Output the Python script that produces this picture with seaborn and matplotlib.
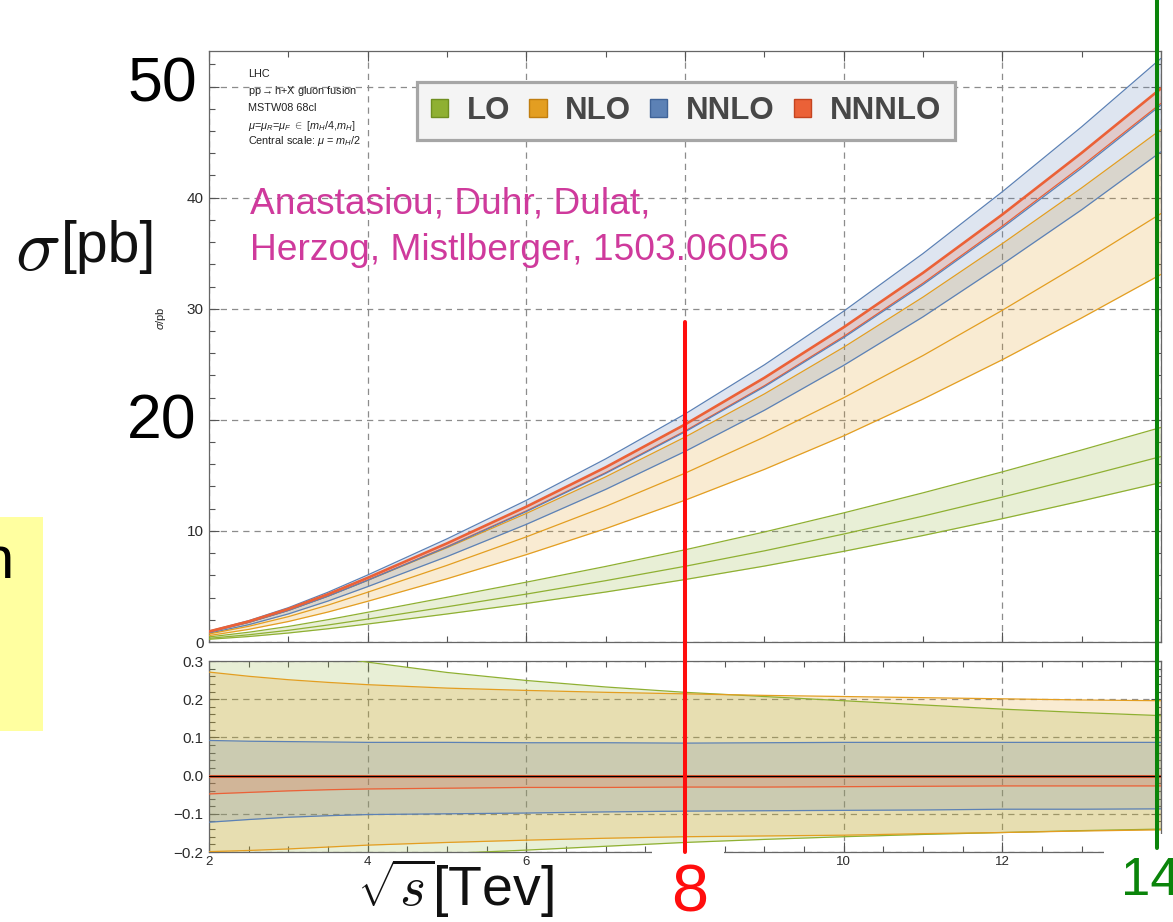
"""Higgs gluon-fusion cross section vs sqrt(s), LO..NNNLO scale bands (slide figure)."""

import matplotlib

matplotlib.use("Agg")
import matplotlib.pyplot as plt
import matplotlib.transforms as mtransforms
import seaborn as sns
from matplotlib.lines import Line2D
from matplotlib.patches import Patch, Rectangle
from matplotlib.ticker import MultipleLocator

W, H = 1173, 922

# --- data ------------------------------------------------------------------
ENERGY = [2, 2.5, 3, 3.5, 4, 5, 6, 7, 8, 9, 10, 11, 12, 13, 14]

LO_CENTRAL = [0.333, 0.651, 1.051, 1.531, 2.063, 3.170, 4.312, 5.521, 6.814, 8.204, 9.717, 11.331, 13.045, 14.838, 16.693]
LO_UP = [0.456, 0.879, 1.398, 2.010, 2.676, 4.026, 5.386, 6.802, 8.299, 9.902, 11.622, 13.427, 15.315, 17.286, 19.314]
LO_DOWN = [0.246, 0.492, 0.809, 1.191, 1.619, 2.523, 3.471, 4.500, 5.622, 6.834, 8.162, 9.586, 11.101, 12.701, 14.356]

NLO_CENTRAL = [0.720, 1.413, 2.281, 3.320, 4.480, 6.900, 9.464, 12.206, 15.194, 18.453, 21.984, 25.786, 29.860, 34.123, 38.568]
NLO_UP = [0.915, 1.780, 2.854, 4.130, 5.546, 8.480, 11.574, 14.867, 18.446, 22.328, 26.535, 31.046, 35.862, 40.879, 46.127]
NLO_DOWN = [0.577, 1.136, 1.843, 2.699, 3.665, 5.693, 7.865, 10.204, 12.763, 15.537, 18.554, 21.867, 25.411, 29.175, 33.091]

NNLO_CENTRAL = [0.898, 1.761, 2.836, 4.119, 5.549, 8.543, 11.742, 15.179, 18.914, 22.971, 27.395, 32.167, 37.287, 42.665, 48.335]
NNLO_UP = [0.981, 1.919, 3.088, 4.481, 6.032, 9.286, 12.752, 16.484, 20.522, 24.947, 29.778, 34.966, 40.531, 46.377, 52.540]
NNLO_DOWN = [0.788, 1.558, 2.527, 3.687, 4.983, 7.689, 10.591, 13.737, 17.155, 20.858, 24.902, 29.272, 34.006, 38.910, 44.130]

N3LO_CENTRAL = [0.95, 1.85, 2.97, 4.30, 5.78, 8.88, 12.18, 15.73, 19.58, 23.78, 28.33, 33.23, 38.48, 44.03, 49.83]
N3LO_DOWN = [0.904, 1.769, 2.851, 4.141, 5.578, 8.587, 11.802, 15.242, 18.993, 23.067, 27.508, 32.300, 37.441, 42.841, 48.485]

# relative scale uncertainty (lower panel)
LO_RATIO_UP = [0.37, 0.35, 0.33, 0.313, 0.297, 0.270, 0.249, 0.232, 0.218, 0.207, 0.196, 0.185, 0.174, 0.165, 0.157]
LO_RATIO_DOWN = [-0.26, -0.244, -0.23, -0.222, -0.215, -0.204, -0.195, -0.185, -0.175, -0.167, -0.160, -0.154, -0.149, -0.144, -0.140]
NLO_RATIO_UP = [0.271, 0.260, 0.251, 0.244, 0.238, 0.229, 0.223, 0.218, 0.214, 0.210, 0.207, 0.204, 0.201, 0.198, 0.196]
NLO_RATIO_DOWN = [-0.199, -0.196, -0.192, -0.187, -0.182, -0.175, -0.169, -0.164, -0.160, -0.158, -0.156, -0.152, -0.149, -0.145, -0.142]
NNLO_RATIO_UP = [0.092, 0.090, 0.089, 0.088, 0.087, 0.087, 0.086, 0.086, 0.085, 0.086, 0.087, 0.087, 0.087, 0.087, 0.087]
NNLO_RATIO_DOWN = [-0.122, -0.115, -0.109, -0.105, -0.102, -0.100, -0.098, -0.095, -0.093, -0.092, -0.091, -0.090, -0.088, -0.088, -0.087]
N3LO_RATIO_UP = [0.0, 0.0, 0.0, 0.0, 0.0, 0.0, 0.0, 0.0, 0.0, 0.0, 0.0, 0.0, 0.0, 0.0, 0.0]
N3LO_RATIO_DOWN = [-0.048, -0.044, -0.040, -0.037, -0.035, -0.033, -0.031, -0.031, -0.030, -0.030, -0.029, -0.028, -0.027, -0.027, -0.027]

ORDERS = ["LO", "NLO", "NNLO", "NNNLO"]
COLORS = ["#8fb032", "#e39e21", "#5c81b5", "#eb6137"]
EDGES = ["#6f8f20", "#c07e10", "#3f6398", "#c44420"]

MARKED_ENERGIES = [8, 14]
TOP_YTICKS = [0, 10, 20, 30, 40, 50]
TOP_YTICK_LABELS = ["0", "10", "", "30", "40", ""]
BOT_XTICKS = [2, 4, 6, 8, 10, 12, 14]
BOT_XTICK_LABELS = ["2", "4", "6", "", "10", "12", ""]
BOT_YTICKS = [-0.2, -0.1, 0.0, 0.1, 0.2, 0.3]
BOT_YTICK_LABELS = ["\u22120.2", "\u22120.1", "0.0", "0.1", "0.2", "0.3"]

INFO_LINES = [
    "LHC",
    r"pp$\rightarrow$h+X gluon fusion",
    "MSTW08 68cl",
    r"$\mu$=$\mu_R$=$\mu_F$ $\in$ [$m_H$/4,$m_H$]",
    r"Central scale: $\mu$ = $m_H$/2",
]
INFO_BASELINES = [77, 94, 111, 129, 144]


def px(x, y):
    return x / W, 1 - y / H


def style_axes(ax):
    for sp in ax.spines.values():
        sp.set_color("#666666")
        sp.set_linewidth(0.9)
    ax.tick_params(which="both", direction="in", top=True, right=True,
                   color="#555555", labelcolor="#2b2b2b", width=0.8)
    ax.tick_params(which="major", length=7)
    ax.tick_params(which="minor", length=4.5)
    ax.grid(True, which="major", color="#8c8c8c", linestyle=(0, (5, 4)), linewidth=0.9)
    ax.set_axisbelow(True)
    ax.set_xlim(2, 14)


def band(ax, lo, hi, color, mid=None, mid_lw=0.9):
    ax.fill_between(ENERGY, lo, hi, color=color, alpha=0.2, lw=0, zorder=2)
    for vals in (lo, hi):
        sns.lineplot(x=ENERGY, y=vals, ax=ax, color=color, lw=0.9, zorder=3)
    if mid is not None:
        sns.lineplot(x=ENERGY, y=mid, ax=ax, color=color, lw=mid_lw, zorder=4)


def main():
    sns.set_theme(style="ticks")
    plt.rcParams["font.family"] = ["Liberation Sans", "DejaVu Sans"]
    plt.rcParams["mathtext.fontset"] = "custom"
    plt.rcParams["mathtext.rm"] = "Liberation Sans"
    plt.rcParams["mathtext.it"] = "Liberation Sans:italic"
    plt.rcParams["mathtext.bf"] = "Liberation Sans:bold"

    fig = plt.figure(figsize=(W / 100, H / 100), dpi=100)
    fig.patch.set_facecolor("white")

    ax = fig.add_axes([209 / W, 1 - 642 / H, (1161 - 209) / W, (642 - 51) / H])
    axr = fig.add_axes([209 / W, 1 - 852 / H, (1161 - 209) / W, (852 - 661) / H])

    # upper panel: absolute cross sections
    band(ax, LO_DOWN, LO_UP, COLORS[0], LO_CENTRAL)
    band(ax, NLO_DOWN, NLO_UP, COLORS[1], NLO_CENTRAL)
    band(ax, NNLO_DOWN, NNLO_UP, COLORS[2], NNLO_CENTRAL)
    ax.fill_between(ENERGY, N3LO_DOWN, N3LO_CENTRAL, color=COLORS[3], alpha=0.2, lw=0, zorder=2)
    sns.lineplot(x=ENERGY, y=N3LO_DOWN, ax=ax, color=COLORS[3], lw=0.9, zorder=3)
    sns.lineplot(x=ENERGY, y=N3LO_CENTRAL, ax=ax, color=COLORS[3], lw=1.9, zorder=4)

    style_axes(ax)
    ax.set_ylim(0, 53.2)
    ax.set_xticks(BOT_XTICKS)
    ax.xaxis.set_minor_locator(MultipleLocator(1))
    ax.set_yticks(TOP_YTICKS, labels=TOP_YTICK_LABELS)
    ax.yaxis.set_minor_locator(MultipleLocator(2))
    ax.tick_params(labelbottom=False, labelsize=11, pad=4)
    ax.set_xlabel("")
    ax.set_ylabel("")

    # lower panel: relative scale variation
    band(axr, LO_RATIO_DOWN, LO_RATIO_UP, COLORS[0])
    band(axr, NLO_RATIO_DOWN, NLO_RATIO_UP, COLORS[1])
    band(axr, NNLO_RATIO_DOWN, NNLO_RATIO_UP, COLORS[2])
    axr.fill_between(ENERGY, N3LO_RATIO_DOWN, N3LO_RATIO_UP, color=COLORS[3], alpha=0.2, lw=0, zorder=2)
    sns.lineplot(x=ENERGY, y=N3LO_RATIO_DOWN, ax=axr, color=COLORS[3], lw=0.9, zorder=3)
    sns.lineplot(x=ENERGY, y=N3LO_RATIO_UP, ax=axr, color=COLORS[3], lw=2.2, zorder=4)
    axr.axhline(0, color="black", lw=0.9, zorder=5)

    style_axes(axr)
    axr.set_ylim(-0.2, 0.3)
    axr.set_xticks(BOT_XTICKS, labels=BOT_XTICK_LABELS)
    axr.xaxis.set_minor_locator(MultipleLocator(0.5))
    axr.set_yticks(BOT_YTICKS, labels=BOT_YTICK_LABELS)
    axr.yaxis.set_minor_locator(MultipleLocator(0.02))
    axr.tick_params(axis="y", labelsize=11, pad=4)
    axr.tick_params(axis="x", labelsize=9.5, pad=3)
    axr.set_xlabel("")
    axr.set_ylabel("")

    # legend
    handles = [Patch(facecolor=c, edgecolor=e, lw=1) for c, e in zip(COLORS, EDGES)]
    leg = fig.legend(handles, ORDERS, loc="center", ncol=4,
                     bbox_to_anchor=px(686, 111), bbox_transform=fig.transFigure,
                     prop={"weight": "bold", "size": 22.5}, labelcolor="#474747",
                     handlelength=0.55, handleheight=0.55, handletextpad=0.6,
                     columnspacing=0.6, borderpad=0.45, fancybox=False, framealpha=1)
    leg.get_frame().set_facecolor("#f4f4f4")
    leg.get_frame().set_edgecolor("#a6a6a6")
    leg.get_frame().set_linewidth(2.3)

    # small info block inside the plot
    for text, base in zip(INFO_LINES, INFO_BASELINES):
        fig.text(*px(248, base), text, fontsize=7.8, color="#222222", va="baseline")
    fig.text(*px(161, 318), r"$\sigma$/pb", fontsize=8, color="#222222",
             rotation=90, ha="center", va="center")

    fig.text(*px(250, 213), "Anastasiou, Duhr, Dulat,", fontsize=26.7,
             color="#cf3a9c", va="baseline")
    fig.text(*px(250, 260), "Herzog, Mistlberger, 1503.06056", fontsize=26.7,
             color="#cf3a9c", va="baseline")

    # slide overlays: hidden tick labels, yellow box, marker lines, big labels
    for x0, y0, x1, y1 in [(652, 845, 724, 880), (1104, 834, 1173, 880)]:
        fig.add_artist(Rectangle(px(x0, y1), (x1 - x0) / W, (y1 - y0) / H,
                                 transform=fig.transFigure, facecolor="white",
                                 edgecolor="none", zorder=6))
    fig.add_artist(Rectangle(px(0, 731), 43 / W, (731 - 517) / H, transform=fig.transFigure,
                             facecolor="#ffffa0", edgecolor="none", zorder=6))
    fig.text(*px(13, 578), "n", fontsize=43, color="black", ha="right",
             va="baseline", zorder=7)

    blend = mtransforms.blended_transform_factory(ax.transData, fig.transFigure)
    red = Line2D([MARKED_ENERGIES[0]] * 2, [1 - 322 / H, 1 - 852 / H], transform=blend,
                 color="#ff0d0d", lw=2.9, zorder=8)
    green_tr = mtransforms.offset_copy(blend, fig=fig, x=-3, units="points")
    green = Line2D([MARKED_ENERGIES[1]] * 2, [1.0, 1 - 848 / H], transform=green_tr,
                   color="#0a840a", lw=2.9, zorder=8)
    fig.add_artist(red)
    fig.add_artist(green)

    fig.text(*px(162, 85), "50", fontsize=45, color="black", ha="center", va="center", zorder=9)
    fig.text(*px(162, 422), "20", fontsize=45, color="black", ha="center", va="center", zorder=9)
    fig.text(*px(37, 250), r"$\sigma$", fontsize=54, color="#111111", ha="center",
             va="center", math_fontfamily="cm", zorder=9)
    fig.text(*px(61, 247), "[pb]", fontsize=41, color="#111111", ha="left",
             va="center", zorder=9)
    fig.text(*px(455, 888), r"$\sqrt{s}$[Tev]", fontsize=40, color="#111111", ha="center",
             va="center", math_fontfamily="cm", zorder=9)
    fig.text(*px(690, 894), "8", fontsize=48, color="#ff0d0d", ha="center", va="center", zorder=9)
    fig.text(*px(1150, 881), "14", fontsize=38, color="#0a840a", ha="center", va="center", zorder=9)

    fig.savefig("out.png", dpi=100)
    plt.close(fig)


if __name__ == "__main__":
    main()
